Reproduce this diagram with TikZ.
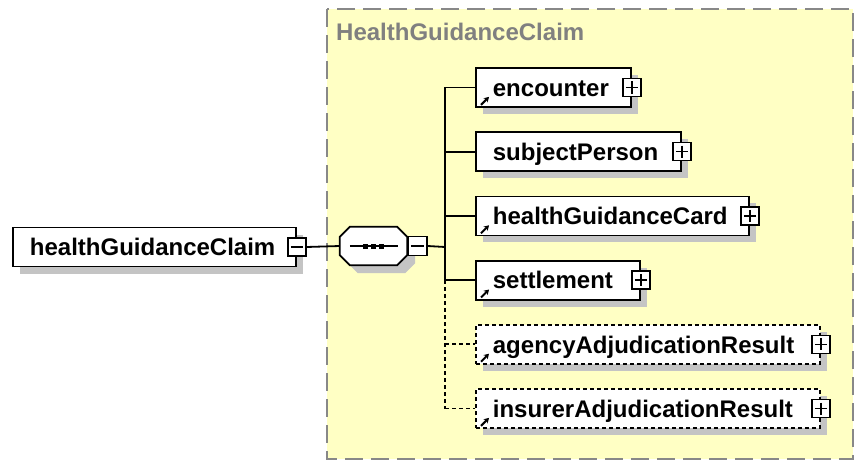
\documentclass[tikz,border=0pt]{standalone}
\usepackage{fontspec}
\setmainfont{Liberation Sans}
\usetikzlibrary{shadows,arrows.meta,calc}
\definecolor{groupfill}{HTML}{FFFFC4}
\definecolor{groupline}{HTML}{888888}
\definecolor{shadowgray}{HTML}{C4C4C4}
\definecolor{titlegray}{HTML}{808080}
\newcommand\octpath[1]{([xshift=10pt]#1.north west) -- ([xshift=-10pt]#1.north east) -- ([yshift=-10pt]#1.north east) -- ([yshift=10pt]#1.south east) -- ([xshift=-10pt]#1.south east) -- ([xshift=10pt]#1.south west) -- ([yshift=10pt]#1.south west) -- ([yshift=-10pt]#1.north west) -- cycle}
\begin{document}
\begin{tikzpicture}[x=1pt,y=-1pt,
  bigfont/.style={font=\fontsize{24}{28}\selectfont\bfseries},
  elem/.style={draw=black, line width=1.8pt, fill=white, text width=#1, minimum height=39pt,
    inner sep=0pt, align=left, anchor=west, text height=17.5pt, text depth=0pt,
    execute at begin node={\noindent\hspace*{17pt}}, bigfont,
    general shadow={shadow xshift=7pt, shadow yshift=-7pt, fill=shadowgray, draw=none}},
  optelem/.style={elem=#1, dash pattern=on 4pt off 3pt},
  pm/.style={draw=black, line width=1.5pt, fill=white, minimum size=18pt, inner sep=0pt},
  plusbox/.style={pm, path picture={\draw[line width=1.5pt]
    ([xshift=3pt]path picture bounding box.west) -- ([xshift=-3pt]path picture bounding box.east)
    ([yshift=-3pt]path picture bounding box.north) -- ([yshift=3pt]path picture bounding box.south);}},
  minusbox/.style={pm, path picture={\draw[line width=1.5pt]
    ([xshift=3pt]path picture bounding box.west) -- ([xshift=-3pt]path picture bounding box.east);}},
  seqframe/.style={draw=none, minimum width=67pt, minimum height=38pt, inner sep=0pt},
  octo/.style={draw=black, line width=1.8pt, fill=white},
  dotsq/.style={fill=black, minimum size=5pt, inner sep=0pt},
  conn/.style={draw=black, line width=1.8pt},
  optdash/.style={dash pattern=on 4pt off 3pt},
  refarrow/.style={line width=2pt, -{Stealth[length=5pt,width=6pt]}},
]
\useasboundingbox (0,0) rectangle (857,460);

% group container
\draw[groupline, fill=groupfill, line width=1.8pt, dash pattern=on 18pt off 8pt] (327,9) rectangle (853,459);
\node[bigfont, text=titlegray, anchor=base west, inner sep=0pt] (gtitle) at (336,41) {HealthGuidanceClaim};

% root element
\node[elem=283pt] (root) at (12,247) {healthGuidanceClaim};
\node[minusbox] (rootM) at (root.east) {};

% sequence compositor
\node[seqframe] (seqsh) at (381.5,254) {};
\fill[shadowgray] \octpath{seqsh};
\node[seqframe] (seq) at (373.5,246) {};
\draw[octo] \octpath{seq};
\draw[line width=1.6pt] ([xshift=10pt]seq.west) -- ([xshift=-9pt]seq.east);
\foreach \dx in {-8,0,8} \node[dotsq] at ([xshift=\dx pt]seq.center) {};
\node[minusbox, minimum size=19pt, anchor=west] (seqM) at (seq.east) {};

\draw[conn] (rootM.east) -- (seq.west);

% children
\node[elem=155pt] (enc) at (475,87.5) {encounter};
\node[plusbox] (encP) at (enc.east) {};
\node[elem=205pt] (sub) at (475,151.7) {subjectPerson};
\node[plusbox] (subP) at (sub.east) {};
\node[elem=273pt] (hgc) at (475,215.9) {healthGuidanceCard};
\node[plusbox] (hgcP) at (hgc.east) {};
\node[elem=164pt] (set) at (475,280.1) {settlement};
\node[plusbox] (setP) at (set.east) {};
\node[optelem=344pt] (age) at (475,344.3) {agencyAdjudicationResult};
\node[plusbox] (ageP) at (age.east) {};
\node[optelem=344pt] (ins) at (475,408.5) {insurerAdjudicationResult};
\node[plusbox] (insP) at (ins.east) {};

% reference arrows
\foreach \n in {enc,hgc,set,age,ins}
  \draw[refarrow] ([shift={(6pt,3pt)}]\n.south west) -- ++(8pt,8pt);

% connectors
\coordinate (bx) at (445,247);
\draw[conn] (seqM.east) -- (bx);
\draw[conn] (bx |- enc.west) -- (bx |- set.west);
\draw[conn, optdash] (bx |- set.west) -- (bx |- ins.west);
\foreach \n in {enc,sub,hgc,set}
  \draw[conn] (bx |- \n.west) -- (\n.west);
\foreach \n in {age,ins}
  \draw[conn, optdash] (bx |- \n.west) -- (\n.west);
\end{tikzpicture}
\end{document}
